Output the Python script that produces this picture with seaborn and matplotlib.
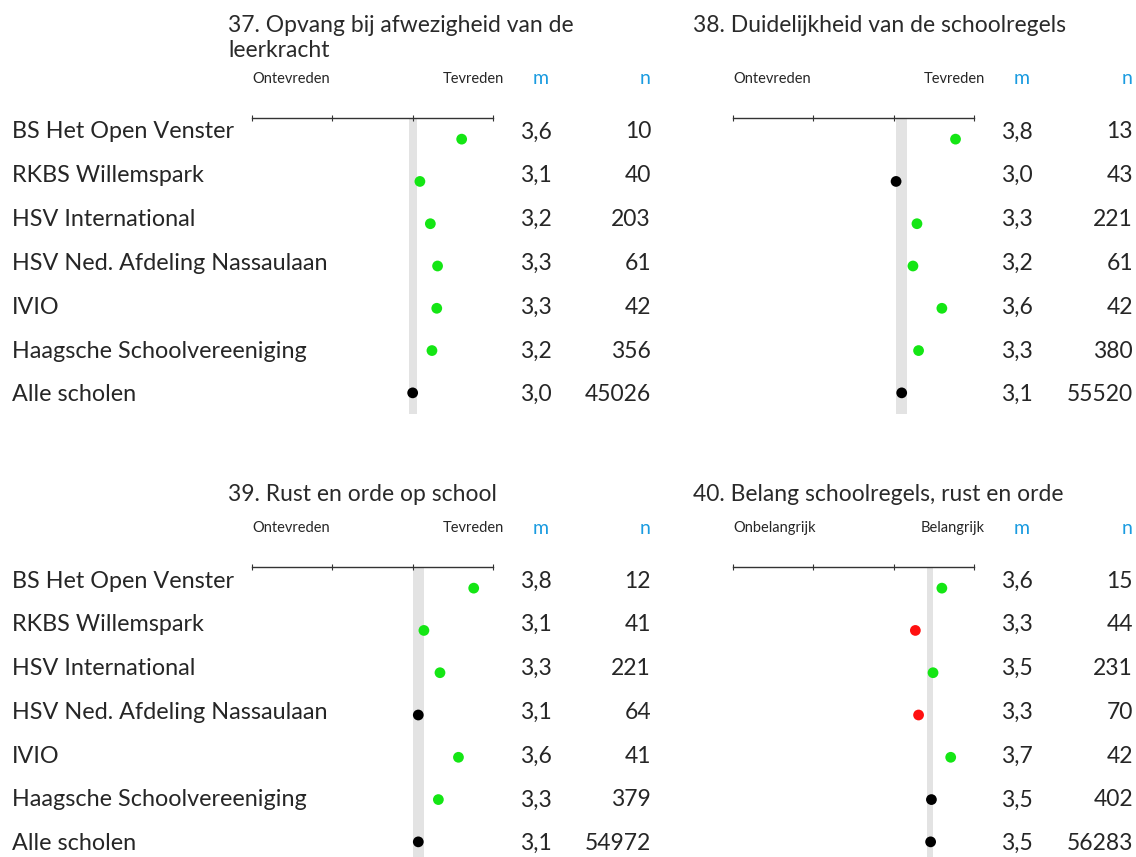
import pandas as pd
import matplotlib
import matplotlib.pyplot as plt
import seaborn as sns

matplotlib.use('Agg')

# data
schools = ['BS Het Open Venster', 'RKBS Willemspark', 'HSV International',
           'HSV Ned. Afdeling Nassaulaan', 'IVIO', 'Haagsche Schoolvereeniging',
           'Alle scholen']

titles = ['37. Opvang bij afwezigheid van de\nleerkracht',
          '38. Duidelijkheid van de schoolregels',
          '39. Rust en orde op school',
          '40. Belang schoolregels, rust en orde']
low_labels = ['Ontevreden', 'Ontevreden', 'Ontevreden', 'Onbelangrijk']
high_labels = ['Tevreden', 'Tevreden', 'Tevreden', 'Belangrijk']

m37 = [3.61, 3.09, 3.22, 3.31, 3.30, 3.24, 3.00]
n37 = [10, 40, 203, 61, 42, 356, 45026]
sig37 = ['hoger', 'hoger', 'hoger', 'hoger', 'hoger', 'hoger', 'gelijk']
band37 = (2.96, 3.05)

m38 = [3.77, 3.03, 3.29, 3.24, 3.60, 3.31, 3.10]
n38 = [13, 43, 221, 61, 42, 380, 55520]
sig38 = ['hoger', 'gelijk', 'hoger', 'hoger', 'hoger', 'hoger', 'gelijk']
band38 = (3.03, 3.17)

m39 = [3.76, 3.14, 3.34, 3.07, 3.57, 3.32, 3.07]
n39 = [12, 41, 221, 64, 41, 379, 54972]
sig39 = ['hoger', 'hoger', 'hoger', 'gelijk', 'hoger', 'hoger', 'gelijk']
band39 = (3.00, 3.14)

m40 = [3.60, 3.27, 3.49, 3.31, 3.71, 3.47, 3.46]
n40 = [15, 44, 231, 70, 42, 402, 56283]
sig40 = ['hoger', 'lager', 'hoger', 'lager', 'hoger', 'gelijk', 'gelijk']
band40 = (3.41, 3.49)

scale_ticks = [1, 2, 3, 4]

palette = {'hoger': '#14e614', 'gelijk': 'black', 'lager': '#ff1010'}
blue = '#1a9be0'

W, H = 1136, 857

sns.set_style('white')
plt.rcParams['font.family'] = ['Lato', 'DejaVu Sans']

fig = plt.figure(figsize=(W / 100, H / 100), dpi=100)


def fx(px):
    return px / W


def fy(py):
    return 1 - py / H


def draw_panel(i, m, n, sig, band, left, top, col_m, col_n, title_x, title_y, show_names):
    ax = fig.add_axes([fx(left), fy(top + 296), fx(241), 296 / H])
    df = pd.DataFrame({'school': schools, 'row': range(len(schools)), 'm': m, 'sig': sig})
    ax.axvspan(band[0], band[1], color='#e3e3e3', zorder=0, lw=0)
    sns.scatterplot(data=df, x='m', y='row', hue='sig', palette=palette, s=60,
                    edgecolor='none', legend=False, ax=ax, zorder=3)
    ax.set_xlim(1, 4)
    ax.set_ylim(6.5, -0.5)
    ax.set_xticks(scale_ticks)
    ax.set_yticks([])
    ax.set_xlabel('')
    ax.set_ylabel('')
    for side in ['left', 'right', 'bottom']:
        ax.spines[side].set_visible(False)
    ax.spines['top'].set_color('#333333')
    ax.spines['top'].set_linewidth(1)
    ax.tick_params(axis='x', top=True, bottom=False, labeltop=False, labelbottom=False,
                   direction='inout', length=5, width=0.8, color='#333333')
    ax.patch.set_alpha(0)

    # title and column headers
    fig.text(fx(title_x), fy(title_y), titles[i], ha='left', va='top', fontsize=16.5,
             linespacing=1.25, color='#2a2a2a')
    head_y = top - 39
    fig.text(fx(left), fy(head_y), low_labels[i], ha='left', va='center', fontsize=10.5)
    fig.text(fx(left + 252), fy(head_y), high_labels[i], ha='right', va='center', fontsize=10.5)
    fig.text(fx(col_m + 5), fy(head_y), 'm', ha='center', va='center', fontsize=14, color=blue)
    fig.text(fx(col_n - 6), fy(head_y), 'n', ha='center', va='center', fontsize=14, color=blue)

    for r in range(len(schools)):
        y = top + 14 + 43.8 * r
        if show_names:
            fig.text(fx(12), fy(y), schools[r], ha='left', va='center', fontsize=16.8)
        fig.text(fx(col_m), fy(y), f'{m[r]:.1f}'.replace('.', ','), ha='center',
                 va='center', fontsize=16.5)
        fig.text(fx(col_n), fy(y), str(n[r]), ha='right', va='center', fontsize=16.5)
    return ax


panels = [
    (m37, n37, sig37, band37, 252, 118, 536, 651, 228, 15, True),
    (m38, n38, sig38, band38, 733, 118, 1017, 1133, 693, 15, False),
    (m39, n39, sig39, band39, 252, 567, 536, 651, 228, 484, True),
    (m40, n40, sig40, band40, 733, 567, 1017, 1133, 693, 484, False),
]

for i, p in enumerate(panels):
    draw_panel(i, *p)

plt.savefig('out.png', dpi=100)
